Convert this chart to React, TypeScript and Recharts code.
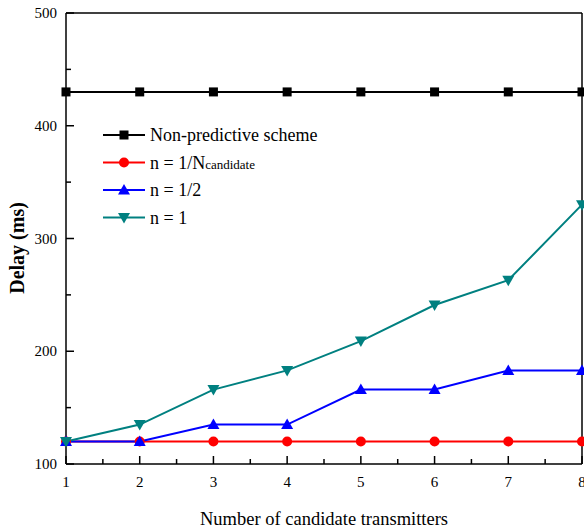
import React from 'react';
import {
  LineChart,
  Line,
  XAxis,
  YAxis,
  ReferenceLine,
} from 'recharts';

const transmitters = [1, 2, 3, 4, 5, 6, 7, 8];
const nonPredictive = [430, 430, 430, 430, 430, 430, 430, 430];
const nCandidate = [120, 120, 120, 120, 120, 120, 120, 120];
const nHalf = [120, 120, 135, 135, 166, 166, 183, 183];
const nOne = [120, 135, 166, 183, 209, 241, 263, 330];

const xTicks = [1, 1.5, 2, 2.5, 3, 3.5, 4, 4.5, 5, 5.5, 6, 6.5, 7, 7.5, 8];
const yTicks = [100, 150, 200, 250, 300, 350, 400, 450, 500];

const data = transmitters.map((x, i) => ({
  x,
  nonPredictive: nonPredictive[i],
  nCandidate: nCandidate[i],
  nHalf: nHalf[i],
  nOne: nOne[i],
}));

const FONT = '"Liberation Serif", "Times New Roman", serif';

const Square = (props: any) => {
  const { cx, cy, fill } = props;
  return <rect x={cx - 4.5} y={cy - 4.5} width={9} height={9} fill={fill} />;
};
const Circle = (props: any) => {
  const { cx, cy, fill } = props;
  return <circle cx={cx} cy={cy} r={5} fill={fill} />;
};
const Up = (props: any) => {
  const { cx, cy, fill } = props;
  return <path d={`M${cx},${cy - 6}L${cx + 6},${cy + 4.5}L${cx - 6},${cy + 4.5}Z`} fill={fill} />;
};
const Down = (props: any) => {
  const { cx, cy, fill } = props;
  return <path d={`M${cx},${cy + 6}L${cx + 6},${cy - 4.5}L${cx - 6},${cy - 4.5}Z`} fill={fill} />;
};

const series = [
  { key: 'nonPredictive', color: '#000000', Dot: Square, name: 'Non-predictive scheme' },
  { key: 'nCandidate', color: '#ff0000', Dot: Circle, name: 'n = 1/N', sub: 'candidate' },
  { key: 'nHalf', color: '#0000ff', Dot: Up, name: 'n = 1/2' },
  { key: 'nOne', color: '#008080', Dot: Down, name: 'n = 1' },
];

const XTick = (props: any) => {
  const { x, y, payload } = props;
  const major = Number.isInteger(payload.value);
  return (
    <g>
      <line x1={x} x2={x} y1={y} y2={y - (major ? 8 : 5)} stroke="#000" strokeWidth={1.5} />
      {major && (
        <text x={x} y={y + 23} textAnchor="middle" fontSize={15} fontFamily={FONT} fill="#000">
          {payload.value}
        </text>
      )}
    </g>
  );
};

const YTick = (props: any) => {
  const { x, y, payload } = props;
  const major = payload.value % 100 === 0;
  return (
    <g>
      <line x1={x} x2={x + (major ? 8 : 5)} y1={y} y2={y} stroke="#000" strokeWidth={1.5} />
      {major && (
        <text x={x - 9} y={y + 5} textAnchor="end" fontSize={15} fontFamily={FONT} fill="#000">
          {payload.value}
        </text>
      )}
    </g>
  );
};

// legend is drawn outside the chart so it takes no room from the plot
const LegendBox = () => (
  <svg width={240} height={110} style={{ position: 'absolute', left: 100, top: 125 }}>
    {series.map((s, i) => {
      const cy = 10 + i * 27.5;
      const Dot = s.Dot;
      return (
        <g key={s.key}>
          <line x1={3} x2={45} y1={cy} y2={cy} stroke={s.color} strokeWidth={2} />
          <Dot cx={24} cy={cy} fill={s.color} />
          <text x={50} y={cy + 6} fontSize={18} fontFamily={FONT} fill="#000">
            {s.name}
            {s.sub && <tspan fontSize={13}>{s.sub}</tspan>}
          </text>
        </g>
      );
    })}
  </svg>
);

const App = () => {
  return (
    <div style={{ position: 'absolute', left: 0, top: 0, width: 584, height: 532 }}>
      <LineChart
        width={584}
        height={532}
        data={data}
        margin={{ top: 13, right: 2, left: 0, bottom: 0 }}
        style={{ fontFamily: FONT }}
      >
        <XAxis
          type="number"
          dataKey="x"
          domain={[1, 8]}
          ticks={xTicks}
          interval={0}
          tickLine={false}
          tickSize={0}
          tickMargin={0}
          tick={<XTick />}
          height={68}
          axisLine={{ stroke: '#000', strokeWidth: 1.5 }}
          label={(props: any) => {
            const vb = props.viewBox;
            return (
              <text x={vb.x + vb.width / 2} y={525} textAnchor="middle" fontSize={18.5} fontFamily={FONT} fill="#000">
                Number of candidate transmitters
              </text>
            );
          }}
        />
        <YAxis
          type="number"
          domain={[100, 500]}
          ticks={yTicks}
          interval={0}
          tickLine={false}
          tickSize={0}
          tickMargin={0}
          tick={<YTick />}
          width={66}
          axisLine={{ stroke: '#000', strokeWidth: 1.5 }}
          label={() => (
            <text
              x={24}
              y={248}
              transform="rotate(-90, 24, 248)"
              textAnchor="middle"
              fontSize={20}
              fontWeight="bold"
              fontFamily={FONT}
              fill="#000"
            >
              Delay (ms)
            </text>
          )}
        />
        <ReferenceLine y={500} stroke="#000" strokeWidth={1.5} />
        <ReferenceLine x={8} stroke="#000" strokeWidth={1.5} />
        {series.map((s) => (
          <Line
            key={s.key}
            dataKey={s.key}
            name={s.name}
            stroke={s.color}
            strokeWidth={2}
            dot={<s.Dot />}
            fill={s.color}
            activeDot={false}
            isAnimationActive={false}
          />
        ))}
      </LineChart>
      <LegendBox />
    </div>
  );
};

export default App;
